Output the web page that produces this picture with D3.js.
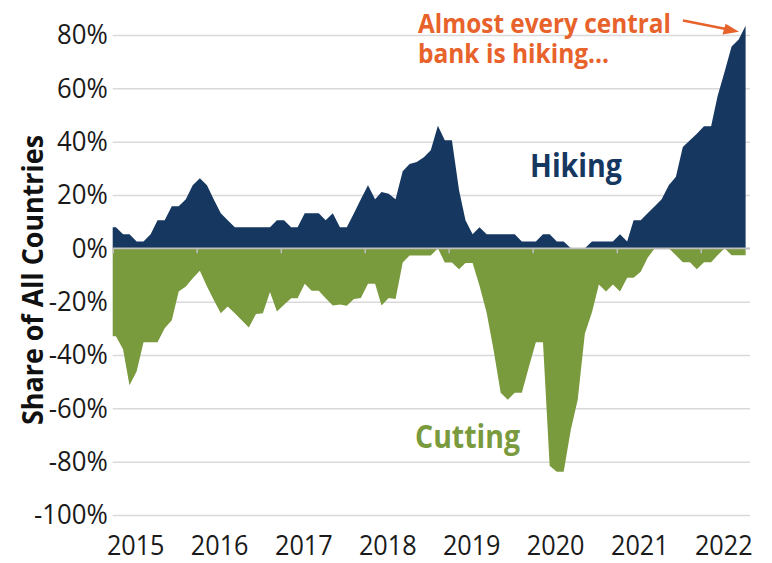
<!DOCTYPE html>
<html>
<head>
<meta charset="utf-8">
<script src="https://cdn.jsdelivr.net/npm/d3@7"></script>
<style>
  body { margin: 0; background: #fff; }
  text { font-family: "Open Sans", sans-serif; }
</style>
</head>
<body>
<svg id="chart" width="772" height="563"></svg>
<script>
// monthly share of countries hiking / cutting, Jan 2015 .. Jul 2022
var hiking = [
  7.9, 5.3, 5.3, 2.6, 2.6, 5.3, 10.5, 10.5, 15.8, 15.8,
  18.4, 23.7, 26.3, 23.7, 18.4, 13.2, 10.5, 7.9, 7.9, 7.9,
  7.9, 7.9, 7.9, 10.5, 10.5, 7.9, 7.9, 13.2, 13.2, 13.2,
  10.5, 13.2, 7.9, 7.9, 13.2, 18.4, 23.7, 18.4, 21.1, 20.5,
  18.4, 28.9, 31.6, 32.4, 34.2, 36.8, 46, 40.5, 40.5, 21.8,
  10.5, 5.3, 7.9, 5.3, 5.3, 5.3, 5.3, 5.3, 2.6, 2.6,
  2.6, 5.3, 5.3, 2.6, 2.6, 0, 0, 0, 2.6, 2.6,
  2.6, 2.6, 5.3, 2.6, 10.5, 10.5, 13.2, 15.8, 18.4, 23.7,
  26.8, 38, 40.5, 43, 45.8, 45.8, 57, 66.3, 75.7, 78.3,
  83.5
];
var cutting = [
  -33, -37.8, -51.3, -46.2, -35.2, -35.2, -35.2, -30, -27, -16.2,
  -14.3, -11.2, -8.4, -14.3, -19.3, -24.3, -21.8, -24.3, -27, -29.7,
  -24.6, -24.3, -16.4, -23.7, -21.2, -18.7, -18.7, -13.3, -15.9, -15.9,
  -18.7, -21.4, -21.1, -21.5, -19, -18.6, -13.3, -13.3, -21.4, -18.6,
  -19, -5.3, -2.7, -2.7, -2.7, -2.7, 0, -5.3, -5.3, -7.8,
  -5.5, -5.5, -14, -24.2, -38, -54.2, -56.8, -54.2, -54.2, -44.7,
  -35.2, -35.2, -81.5, -83.8, -83.8, -68, -56.8, -32, -24, -13.6,
  -16.2, -13.6, -16.2, -11, -11, -8.8, -3.5, 0, 0, 0,
  -2.6, -5.2, -5.2, -7.8, -5.2, -5.2, -2.6, 0, -2.6, -2.6,
  -2.6
];
var yTicks = [80, 60, 40, 20, 0, -20, -40, -60, -80, -100];
var years = [2015, 2016, 2017, 2018, 2019, 2020, 2021, 2022];

var navy = "#16375f", green = "#7a9a3e", orange = "#e8622b";

var svg = d3.select("#chart");
var left = 112.7, right = 750;

// condensed look: squeeze each label to a share of its natural width
function squeeze(sel, k) {
  sel.each(function() {
    var w = this.getComputedTextLength();
    d3.select(this).attr("textLength", w * k).attr("lengthAdjust", "spacingAndGlyphs");
  });
}

var months = d3.timeMonth.range(new Date(2015, 0, 1), new Date(2022, 7, 1));
var rows = months.map(function(m, i) {
  return { date: d3.timeDay.offset(m, 14), hike: hiking[i], cut: cutting[i] };
});
// area starts at the left edge with the first month's value
rows.unshift({ date: new Date(2015, 0, 1), hike: hiking[0], cut: cutting[0] });

var x = d3.scaleTime()
  .domain([new Date(2015, 0, 1), new Date(2023, 0, 1)])
  .range([left, left + 84 * 8]);
var y = d3.scaleLinear().domain([-100, 80]).range([515, 35]);

// gridlines + y labels
var yAxis = svg.append("g")
  .attr("transform", "translate(" + left + ",0)")
  .call(d3.axisLeft(y).tickValues(yTicks).tickSize(-(right - left)).tickPadding(5)
    .tickFormat(function(d) { return d + "%"; }));
yAxis.select(".domain").remove();
yAxis.selectAll("line").attr("stroke", "#d9d9d9").attr("stroke-width", 1.5);
yAxis.selectAll("text").attr("font-size", 28).attr("fill", "#1a1a1a")
  .style("font-family", "'Open Sans', sans-serif")
  .call(squeeze, 0.92);

// areas
svg.append("path").datum(rows)
  .attr("fill", navy)
  .attr("d", d3.area().x(function(d) { return x(d.date); })
    .y0(y(0)).y1(function(d) { return y(d.hike); }));
svg.append("path").datum(rows)
  .attr("fill", green)
  .attr("d", d3.area().x(function(d) { return x(d.date); })
    .y0(y(0)).y1(function(d) { return y(d.cut); }));

// zero line with year ticks
var yearDates = years.map(function(yr) { return new Date(yr, 0, 1); });
var zero = svg.append("g")
  .attr("transform", "translate(0," + y(0) + ")")
  .call(d3.axisBottom(x).tickValues(yearDates).tickSize(5).tickFormat(""));
zero.select(".domain").remove();
zero.selectAll("line").attr("stroke", "#bfbfbf").attr("stroke-width", 1.5);
zero.append("line")
  .attr("x1", left).attr("x2", right)
  .attr("stroke", "#bfbfbf").attr("stroke-width", 1.8);

// year labels along the bottom
svg.selectAll(".year")
  .data(yearDates)
  .enter().append("text")
  .attr("class", "year")
  .attr("x", function(d) { return x(d) + 23; })
  .attr("y", 555)
  .attr("text-anchor", "middle")
  .attr("font-size", 28)
  .attr("fill", "#1a1a1a")
  .text(function(d) { return d.getFullYear(); })
  .call(squeeze, 0.9);

// axis title
svg.append("text")
  .attr("transform", "translate(43,280) rotate(-90)")
  .attr("text-anchor", "middle")
  .attr("font-size", 29)
  .attr("font-weight", "bold")
  .attr("fill", "#111")
  .attr("textLength", 290)
  .attr("lengthAdjust", "spacingAndGlyphs")
  .text("Share of All Countries");

// series labels
svg.append("text")
  .attr("x", 530).attr("y", 177)
  .attr("font-size", 32).attr("font-weight", "bold")
  .attr("fill", navy)
  .attr("textLength", 92).attr("lengthAdjust", "spacingAndGlyphs")
  .text("Hiking");
svg.append("text")
  .attr("x", 415).attr("y", 448)
  .attr("font-size", 32).attr("font-weight", "bold")
  .attr("fill", green)
  .attr("textLength", 105).attr("lengthAdjust", "spacingAndGlyphs")
  .text("Cutting");

// annotation
svg.append("text")
  .attr("x", 418).attr("y", 33)
  .attr("font-size", 27).attr("font-weight", "bold")
  .attr("fill", orange)
  .attr("textLength", 253).attr("lengthAdjust", "spacingAndGlyphs")
  .text("Almost every central");
svg.append("text")
  .attr("x", 418).attr("y", 63)
  .attr("font-size", 27).attr("font-weight", "bold")
  .attr("fill", orange)
  .attr("textLength", 191).attr("lengthAdjust", "spacingAndGlyphs")
  .text("bank is hiking...");

svg.append("line")
  .attr("x1", 683).attr("y1", 20.5)
  .attr("x2", 726).attr("y2", 29)
  .attr("stroke", orange).attr("stroke-width", 2.5);
svg.append("path")
  .attr("d", "M739,31.7 L722.5,34.6 L725.6,23.7 Z")
  .attr("fill", orange);
</script>
</body>
</html>
